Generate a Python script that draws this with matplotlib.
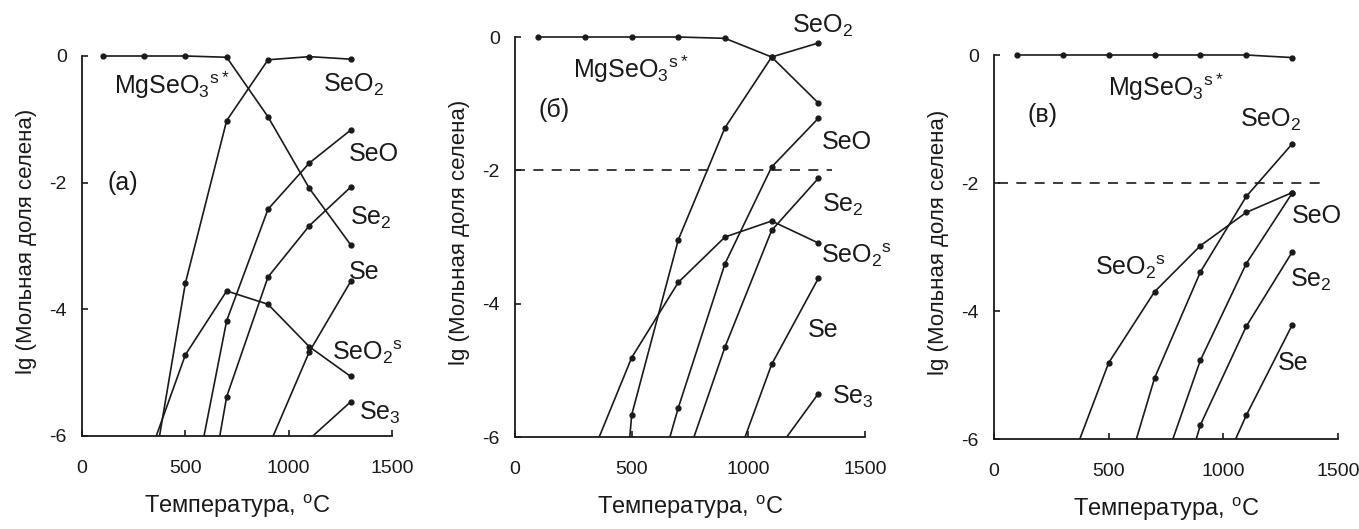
import numpy as np
import matplotlib
matplotlib.use('Agg')
import matplotlib.pyplot as plt

plt.rcParams['font.family'] = ['Liberation Sans', 'DejaVu Sans']
plt.rcParams['mathtext.fontset'] = 'custom'
plt.rcParams['mathtext.rm'] = 'Liberation Sans'
plt.rcParams['mathtext.it'] = 'Liberation Sans'
plt.rcParams['mathtext.default'] = 'regular'
plt.rcParams['axes.unicode_minus'] = False

nan = np.nan

########### data ###############

T = [100, 300, 500, 700, 900, 1100, 1300]

# (a)
mg_a   = [0, 0, 0, -0.02, -0.96, -2.09, -2.98]
seo2_a = [nan, -7.45, -3.59, -1.02, -0.06, -0.01, -0.05]
seo_a  = [nan, nan, -7.5, -4.18, -2.42, -1.69, -1.17]
se2_a  = [nan, nan, -9.1, -5.38, -3.49, -2.68, -2.07]
se_a   = [nan, nan, nan, nan, -6.19, -4.67, -3.56]
se3_a  = [nan, nan, nan, nan, nan, -6.05, -5.46]
sos_a  = [nan, -6.54, -4.72, -3.71, -3.92, -4.59, -5.06]

# (б)
mg_b   = [0, 0, 0, 0, -0.02, -0.30, -0.99]
seo2_b = [nan, -14.0, -5.67, -3.04, -1.36, -0.30, -0.09]
seo_b  = [nan, nan, -8.0, -5.56, -3.40, -1.95, -1.22]
se2_b  = [nan, nan, nan, -6.68, -4.65, -2.90, -2.12]
se_b   = [nan, nan, nan, nan, -6.82, -4.91, -3.62]
se3_b  = [nan, nan, nan, nan, nan, -6.31, -5.35]
sos_b  = [nan, -6.52, -4.81, -3.68, -3.00, -2.76, -3.09]

# (в)
mg_c   = [0, 0, 0, 0, 0, 0, -0.04]
seo2_c = [nan, nan, -7.45, -5.05, -3.39, -2.21, -1.39]
seo_c  = [nan, nan, nan, -6.82, -4.77, -3.26, -2.16]
se2_c  = [nan, nan, nan, -8.22, -5.78, -4.24, -3.08]
se_c   = [nan, nan, nan, nan, -7.23, -5.63, -4.22]
sos_c  = [nan, -6.70, -4.81, -3.70, -2.98, -2.46, -2.15]

limit_lg = -2

mg_lab = 'MgSeO$_3$$^{s*}$'
labels_a = [(mg_lab, 157, -0.46), ('SeO$_2$', 1168, -0.46), ('SeO', 1290, -1.54),
            ('(a)', 125, -2.0), ('Se$_2$', 1298, -2.56), ('Se', 1290, -3.41),
            ('SeO$_2$$^s$', 1209, -4.67), ('Se$_3$', 1338, -5.64)]
labels_b = [('SeO$_2$', 1186, 0.17), (mg_lab, 250, -0.49), ('(б)', 100, -1.09),
            ('SeO', 1314, -1.57), ('Se$_2$', 1314, -2.52), ('SeO$_2$$^s$', 1311, -3.27),
            ('Se', 1257, -4.40), ('Se$_3$', 1357, -5.40)]
labels_c = [(mg_lab, 497, -0.51), ('(в)', 148, -0.94), ('SeO$_2$', 1071, -1.02),
            ('SeO', 1297, -2.52), ('SeO$_2$$^s$', 439, -3.31), ('Se$_2$', 1289, -3.51),
            ('Se', 1238, -4.82)]

############ figure ##############

W, H = 1359, 529
fig = plt.figure(figsize=(W / 100, H / 100), dpi=100)
col = '#1a1a1a'
top_pad = 0.15

def make_ax(x0, x1500, y0, y6):
    per = (y6 - y0) / 6.0
    top = y0 - top_pad * per
    ax = fig.add_axes([x0 / W, (H - y6) / H, (x1500 - x0) / W, (y6 - top) / H])
    ax.set_xlim(0, 1500)
    ax.set_ylim(-6, top_pad)
    ax.spines['top'].set_visible(False)
    ax.spines['right'].set_visible(False)
    ax.spines['left'].set_bounds(-6, 0)
    for s in ['left', 'bottom']:
        ax.spines[s].set_linewidth(1.3)
        ax.spines[s].set_color(col)
    ax.set_xticks([0, 500, 1000, 1500])
    ax.set_yticks([0, -2, -4, -6])
    ax.tick_params(direction='in', length=4, width=1.2, colors=col, labelsize=14)
    ax.tick_params(axis='x', pad=17)
    ax.tick_params(axis='y', pad=11)
    ax.set_xlabel('Температура, $^o$C', fontsize=17, color=col, labelpad=12)
    ax.set_ylabel('lg (Мольная доля селена)', fontsize=16, color=col, labelpad=9)
    return ax

def draw(ax, series, labels):
    for s in series:
        ax.plot(T, s, color=col, lw=1.2, marker='o', ms=3.5)
    for txt, x, y in labels:
        ax.text(x, y, txt, fontsize=18, color=col, ha='left', va='center', clip_on=False)

ax1 = make_ax(82, 392, 56, 436)
draw(ax1, [mg_a, seo2_a, seo_a, se2_a, se_a, se3_a, sos_a], labels_a)

ax2 = make_ax(515, 865, 37, 437)
draw(ax2, [mg_b, seo2_b, seo_b, se2_b, se_b, se3_b, sos_b], labels_b)
ax2.plot([0, 1357], [limit_lg, limit_lg], color=col, lw=1.2, dashes=(6, 5))

ax3 = make_ax(994, 1338, 55, 439)
draw(ax3, [mg_c, seo2_c, seo_c, se2_c, se_c, sos_c], labels_c)
ax3.plot([17, 1427], [limit_lg, limit_lg], color=col, lw=1.2, dashes=(6, 5))

fig.savefig('out.png', dpi=100)
